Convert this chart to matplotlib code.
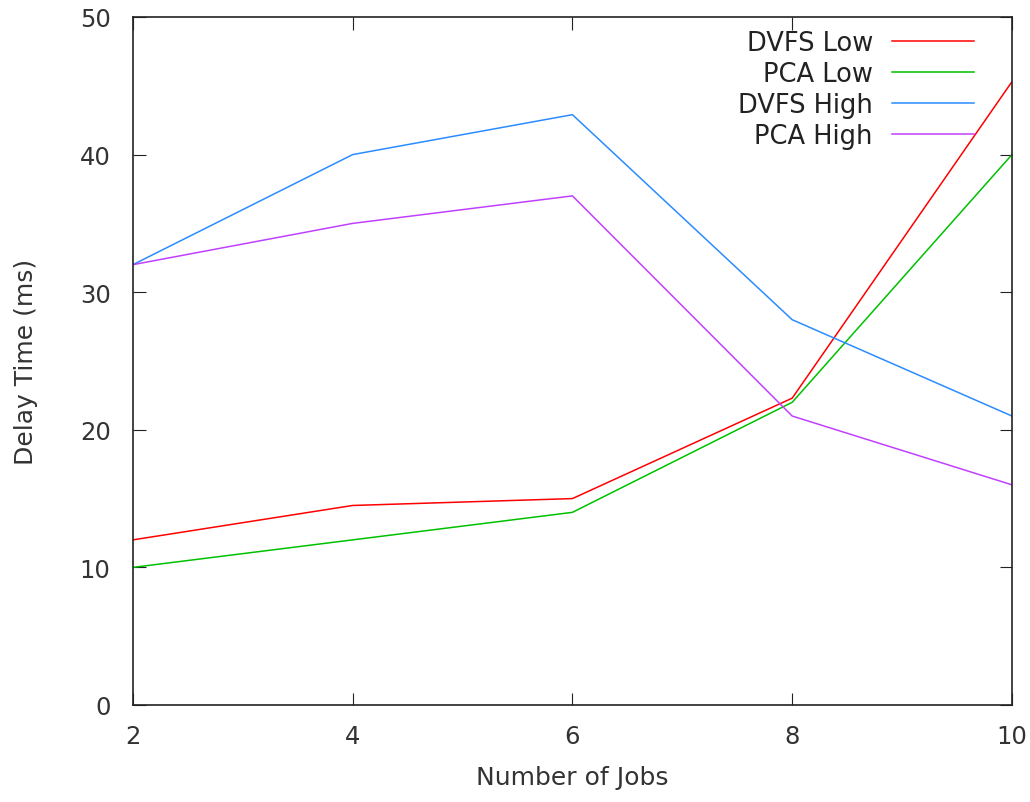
import matplotlib
matplotlib.use("Agg")
import matplotlib.pyplot as plt

jobs = [2, 4, 6, 8, 10]
dvfs_low = [12, 14.5, 15, 22.3, 45.3]
pca_low = [10, 12, 14, 22, 40]
dvfs_high = [32, 40, 42.9, 28, 21]
pca_high = [32, 35, 37, 21, 16]

series = [
    ("DVFS Low", dvfs_low, "#ff0000"),
    ("PCA Low", pca_low, "#00c000"),
    ("DVFS High", dvfs_high, "#2b8cff"),
    ("PCA High", pca_high, "#c040ff"),
]

plt.rcParams["font.family"] = "DejaVu Sans"
plt.rcParams["font.size"] = 18

fig = plt.figure(figsize=(10.3, 8.03), dpi=100)
ax = fig.add_axes([0.129, 0.1208, 0.8535, 0.8568])

for name, vals, color in series:
    ax.plot(jobs, vals, color=color, linewidth=1.1, label=name)

ax.set_xlim(2, 10)
ax.set_ylim(0, 50)
ax.set_xticks(jobs)
ax.set_yticks(range(0, 51, 10))
ax.tick_params(direction="in", length=9, top=True, right=True, labelsize=17.5,
               colors="#222222", labelcolor="#333333")
ax.tick_params(axis="y", pad=16)
ax.tick_params(axis="x", pad=14)
for s in ax.spines.values():
    s.set_linewidth(1.2)
    s.set_color("#222222")

ax.set_xlabel("Number of Jobs", fontsize=18, color="#333333", labelpad=12)
ax.set_ylabel("Delay Time (ms)", fontsize=18, color="#333333", labelpad=30)

ax.legend(loc="upper right", bbox_to_anchor=(0.969, 0.996), borderaxespad=0,
          frameon=False, markerfirst=False, handlelength=3.2,
          handletextpad=0.75, labelspacing=0.2, fontsize=18.5,
          labelcolor="#222222")

fig.savefig("out.png", dpi=100)
